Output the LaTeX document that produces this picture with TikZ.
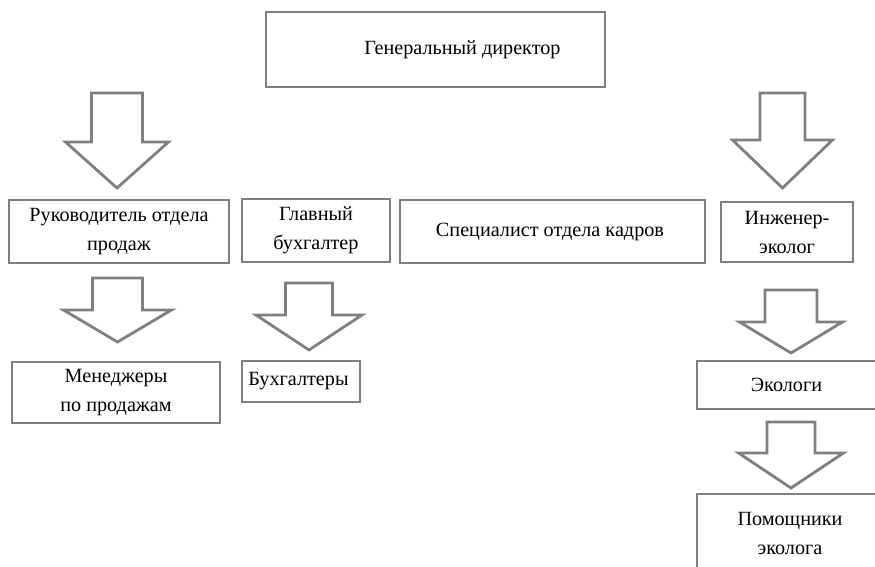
\documentclass[tikz,border=0pt]{standalone}
\usepackage{fontspec}
\setmainfont{Liberation Serif}
\usepackage{tikz}
\usetikzlibrary{calc}
\definecolor{rahmen}{rgb}{0.5,0.5,0.5}
\tikzstyle{box} = [draw=rahmen,line width=2.8pt,rectangle,fill=white,align=center,inner sep=2pt,font=\fontsize{20.2}{29}\selectfont]
\tikzstyle{pfeil} = [draw=rahmen,line width=2.8pt,line join=miter,fill=white]
% block arrow: x, top, neck, tip, shaft half width, head half width
\newcommand{\blockarrow}[6]{
	\draw[pfeil] (#1-#5,#2) -- (#1+#5,#2) -- (#1+#5,#3) -- (#1+#6,#3)
		-- (#1,#4) -- (#1-#6,#3) -- (#1-#5,#3) -- cycle;
}
\begin{document}
\begin{tikzpicture}[x=1pt,y=-1pt]
\useasboundingbox (0,0) rectangle (875,567);

\node[box,minimum width=339pt,minimum height=75pt] (GD) at (435.5,49.5) {
	\hspace*{59pt}Генеральный директор
};

\node[box,minimum width=220pt,minimum height=63pt] (RO) at (119,231.5) {
	Руководитель отдела\\продаж
};
\node[box,minimum width=148pt,minimum height=63pt] (GB) at (316,230.5) {
	Главный\\бухгалтер
};
\node[box,minimum width=305pt,minimum height=63pt] (SK) at (552.5,231.5) {
	Специалист отдела кадров
};
\node[box,minimum width=132pt,minimum height=60pt] (IE) at (787,232) {
	Инженер-\\эколог
};

\node[box,minimum width=208pt,minimum height=61pt] (MP) at (116,392.5) {
	Менеджеры\\по продажам
};
\node[box,minimum width=118pt,minimum height=41pt] (BU) at (301,381.5) {
	Бухгалтеры
};
\node[box,minimum width=184pt,minimum height=48pt] (EK) at (789,385) {
	Экологи
};
\node[box,minimum width=186pt,minimum height=78pt] (PE) at (790,533) {
	Помощники\\эколога
};

\blockarrow{117}{93}{142}{188}{25.5}{51.5}
\blockarrow{782.5}{93}{140}{188}{22.5}{50}
\blockarrow{117.5}{278}{310}{342}{25}{54}
\blockarrow{309}{283}{315}{350}{23.5}{53}
\blockarrow{791}{290}{322}{353}{26}{51.5}
\blockarrow{791}{422}{453}{488}{24}{52.5}
\end{tikzpicture}
\end{document}
